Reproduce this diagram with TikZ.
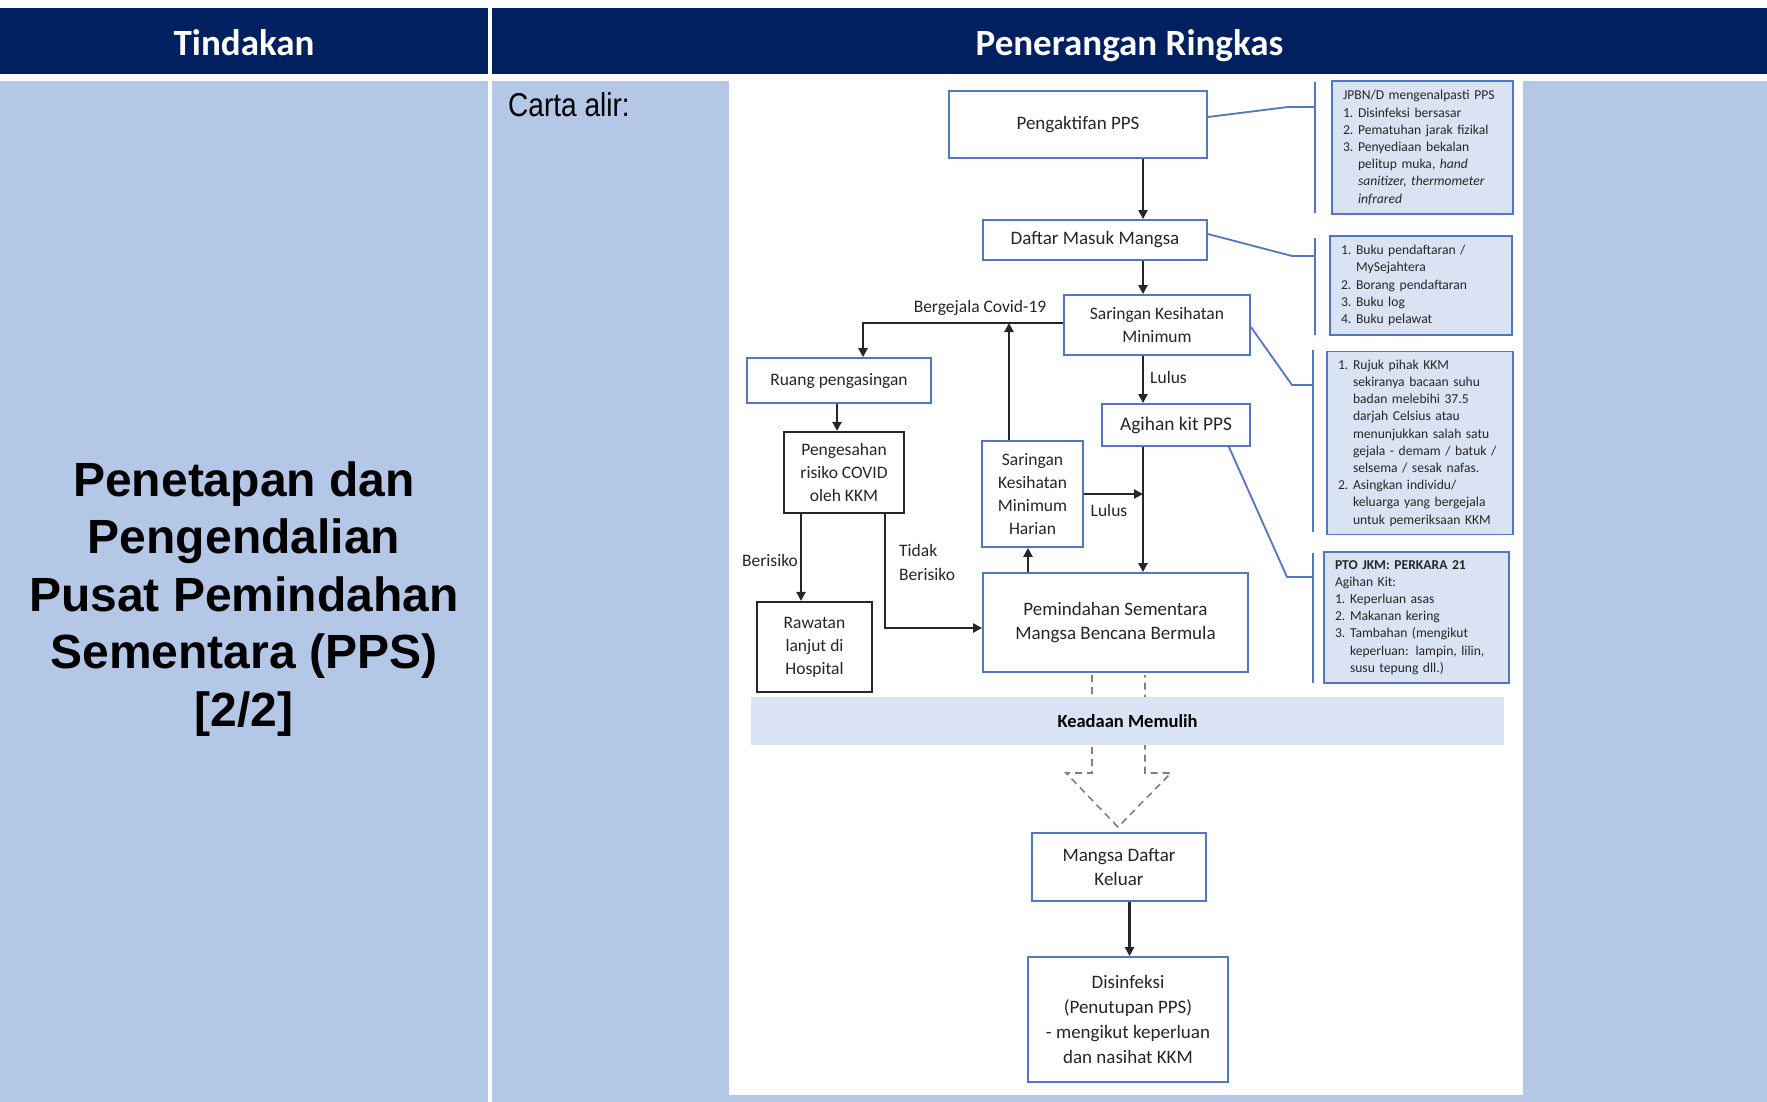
\documentclass[tikz,border=0pt]{standalone}
\usepackage{fontspec}
\setmainfont{Carlito}
\newfontfamily\arialf{Liberation Sans}
\newfontfamily\narrowf[FakeStretch=0.85]{Liberation Sans}
\usetikzlibrary{arrows.meta,calc}
\definecolor{navy}{RGB}{0,32,96}
\definecolor{bodyblue}{RGB}{180,199,231}
\definecolor{sidefill}{RGB}{218,227,243}
\definecolor{boxblue}{RGB}{82,117,196}
\definecolor{inkc}{RGB}{38,38,38}
\definecolor{dashgray}{RGB}{128,128,128}
\newcommand\lnum[1]{\makebox[15pt][l]{#1}}
\newcommand\lcont{\hspace*{15pt}}
\begin{document}
\begin{tikzpicture}[x=1pt,y=-1pt,
  bluebox/.style={draw=boxblue, line width=1.8pt, fill=white, align=center, inner sep=0pt, text=inkc},
  blackbox/.style={draw=inkc, line width=2.2pt, fill=white, align=center, inner sep=0pt, text=inkc},
  sidebox/.style={draw=boxblue, line width=1.8pt, fill=sidefill, align=left, inner xsep=11pt, inner ysep=0pt, text=inkc, font=\fontsize{13.6}{17.2}\selectfont},
  big/.style={font=\fontsize{19}{24.8}\selectfont},
  mid/.style={font=\fontsize{17.5}{22.8}\selectfont},
  lbl/.style={text=inkc, inner sep=0pt, font=\fontsize{17.5}{23}\selectfont},
  arr/.style={draw=inkc, line width=2.4pt, -{Triangle[length=9pt,width=9pt]}},
  callout/.style={draw=boxblue, line width=1.8pt},
  hdr/.style={text=white, anchor=base, inner sep=0pt, font=\fontsize{37}{40}\selectfont\bfseries},
]
\useasboundingbox (0,0) rectangle (1767,1102);
\fill[white] (0,0) rectangle (1767,1102);
% table
\fill[navy] (0,8) rectangle (488,74);
\fill[navy] (492,8) rectangle (1767,74);
\fill[bodyblue] (0,81) rectangle (488,1102);
\fill[bodyblue] (492,81) rectangle (1767,1102);
\fill[white] (729,81) rectangle (1523,1095);
\node[hdr] (h1) at (244,56) {Tindakan};
\node[hdr] (h2) at (1129.5,56) {Penerangan Ringkas};
\node[align=center, font=\arialf\fontsize{48}{57.5}\selectfont\bfseries] (title) at (244,599)
  {Penetapan dan\\Pengendalian\\Pusat Pemindahan\\Sementara (PPS)\\{[2/2]}};
\node[anchor=west, inner sep=0pt, font=\narrowf\fontsize{33}{36}\selectfont] (carta) at (508,105) {Carta alir:};

% dashed block arrow (behind band)
\draw[dashgray, line width=1.6pt, dash pattern=on 7pt off 5pt]
  (1092,675) -- (1092,773) -- (1066,773) -- (1118,827) -- (1171,773) -- (1145,773) -- (1145,675);
\node[fill=sidefill, minimum width=753pt, minimum height=48pt, inner sep=0pt,
  font=\fontsize{18.5}{21}\selectfont\bfseries, text=black] (keadaan) at (1127.5,721) {Keadaan Memulih};

% main flow boxes
\node[bluebox, big, minimum width=258pt, minimum height=67pt] (pengaktifan) at (1078,124.5) {Pengaktifan PPS};
\node[bluebox, big, minimum width=224pt, minimum height=40pt] (daftar) at (1095,240) {Daftar Masuk Mangsa};
\node[bluebox, mid, minimum width=186pt, minimum height=60pt] (saringan) at (1157,325) {Saringan Kesihatan\\Minimum};
\node[bluebox, font=\fontsize{19.4}{24}\selectfont, minimum width=148pt, minimum height=42pt] (agihan) at (1176,425) {Agihan kit PPS};
\node[bluebox, mid, minimum width=184pt, minimum height=45pt] (ruang) at (839,380.5) {Ruang pengasingan};
\node[blackbox, mid, minimum width=120pt, minimum height=81pt] (pengesahan) at (844,472.5) {Pengesahan\\risiko COVID\\oleh KKM};
\node[bluebox, mid, minimum width=101pt, minimum height=106pt] (harian) at (1032.5,494) {Saringan\\Kesihatan\\Minimum\\Harian};
\node[bluebox, big, minimum width=265pt, minimum height=99pt] (pemindahan) at (1115.5,622.5) {Pemindahan Sementara\\Mangsa Bencana Bermula};
\node[blackbox, mid, minimum width=115pt, minimum height=90pt] (rawatan) at (814.5,647) {Rawatan\\lanjut di\\Hospital};
\node[bluebox, big, minimum width=174pt, minimum height=68pt] (keluar) at (1119,867) {Mangsa Daftar\\Keluar};
\node[bluebox, big, minimum width=200pt, minimum height=125pt] (disinfeksi) at (1128,1019.5) {Disinfeksi\\(Penutupan PPS)\\- mengikut keperluan\\dan nasihat KKM};

% helper coordinates
\coordinate (mainx) at (1143,0);
\coordinate (bergx) at (863,0);
\coordinate (upx) at (1009,0);
\coordinate (ruangx) at (837,0);
\coordinate (berx) at (801,0);
\coordinate (tidx) at (885,0);
\coordinate (hupx) at (1028,0);
\coordinate (exitx) at (1129.5,0);
\coordinate (tidy) at (0,628);
\coordinate (lulusy) at (0,494);
\coordinate (bergy) at (0,323);

% arrows
\draw[arr] (pengaktifan.south -| mainx) -- (daftar.north -| mainx);
\draw[arr] (daftar.south -| mainx) -- (saringan.north -| mainx);
\draw[arr] (saringan.south -| mainx) -- (agihan.north -| mainx);
\draw[arr] (agihan.south -| mainx) -- (pemindahan.north -| mainx);
\draw[arr] (saringan.west |- bergy) -- (bergx |- bergy) -- (ruang.north -| bergx);
\draw[arr] (harian.north -| upx) -- (upx |- bergy);
\draw[arr] (ruang.south -| ruangx) -- (pengesahan.north -| ruangx);
\draw[arr] (pengesahan.south -| berx) -- (rawatan.north -| berx);
\draw[arr] (pengesahan.south -| tidx) -- (tidx |- tidy) -- (pemindahan.west |- tidy);
\draw[arr] (pemindahan.north -| hupx) -- (harian.south -| hupx);
\draw[arr] (harian.east |- lulusy) -- (mainx |- lulusy);
\draw[arr] (keluar.south -| exitx) -- (disinfeksi.north -| exitx);

% labels
\node[lbl] (lblberg) at (980,308) {Bergejala Covid-19};
\node[lbl, anchor=west] (lbllulus1) at (1150,377) {Lulus};
\node[lbl] (lbllulus2) at (1109,510) {Lulus};
\node[lbl] (lblberisiko) at (770,560) {Berisiko};
\node[lbl, anchor=west, align=left, font=\fontsize{17.5}{23.5}\selectfont] (lbltidak) at (899,562.5) {Tidak\\Berisiko};

% side notes
\node[sidebox, text width=159pt, minimum height=133pt] (note1) at (1422.5,147.5)
 {JPBN/D mengenalpasti PPS\\
  \lnum{1.}Disinfeksi bersasar\\
  \lnum{2.}Pematuhan jarak fizikal\\
  \lnum{3.}Penyediaan bekalan\\
  \lcont pelitup muka, \textit{hand}\\
  \lcont\textit{sanitizer, thermometer}\\
  \lcont\textit{infrared}};
\node[sidebox, text width=160pt, minimum height=99pt] (note2) at (1421,285.5)
 {\lnum{1.}Buku pendaftaran /\\
  \lcont MySejahtera\\
  \lnum{2.}Borang pendaftaran\\
  \lnum{3.}Buku log\\
  \lnum{4.}Buku pelawat};
\node[sidebox, text width=164pt, minimum height=183pt] (note3) at (1420,443)
 {\lnum{1.}Rujuk pihak KKM\\
  \lcont sekiranya bacaan suhu\\
  \lcont badan melebihi 37.5\\
  \lcont darjah Celsius atau\\
  \lcont menunjukkan salah satu\\
  \lcont gejala - demam / batuk /\\
  \lcont selsema / sesak nafas.\\
  \lnum{2.}Asingkan individu/\\
  \lcont keluarga yang bergejala\\
  \lcont untuk pemeriksaan KKM};
\node[sidebox, text width=163pt, minimum height=131pt] (note4) at (1416.5,617.5)
 {\textbf{PTO JKM: PERKARA 21}\\
  Agihan Kit:\\
  \lnum{1.}Keperluan asas\\
  \lnum{2.}Makanan kering\\
  \lnum{3.}Tambahan (mengikut\\
  \lcont keperluan: lampin, lilin,\\
  \lcont susu tepung dll.)};

% callout brackets and leaders
\draw[callout] (1315,82) -- (1315,213);
\draw[callout] (1315,238) -- (1315,335);
\draw[callout] (1313,350) -- (1313,532);
\draw[callout] (1313,553) -- (1313,683);
\coordinate (b1) at (1315,107);
\coordinate (b2) at (1315,256);
\coordinate (b3) at (1313,385);
\coordinate (b4) at (1313,577);
\draw[callout] ([yshift=7.5pt]pengaktifan.east) -- (1288,107) -- (b1);
\draw[callout] ([yshift=6pt]daftar.east) -- (1292,256) -- (b2);
\draw[callout] ([yshift=-2pt]saringan.east) -- (1292,385) -- (b3);
\draw[callout] ([xshift=-22pt]agihan.south east) -- (1287,577) -- (b4);
\end{tikzpicture}
\end{document}
